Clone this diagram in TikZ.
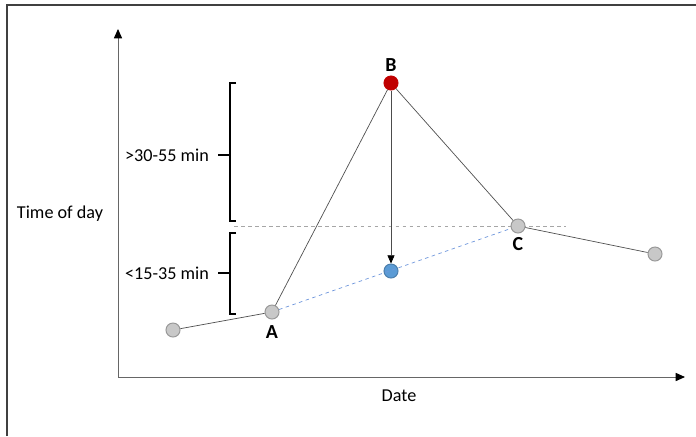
\documentclass[tikz,border=0pt]{standalone}
\usepackage{fontspec}
\setmainfont{Carlito}
\usetikzlibrary{arrows.meta, positioning}
\definecolor{dotgray}{RGB}{200, 200, 200}
\definecolor{rimgray}{RGB}{150, 150, 150}
\definecolor{linegray}{RGB}{80, 80, 80}
\definecolor{pointred}{RGB}{192, 0, 0}
\definecolor{pointblue}{RGB}{91, 155, 213}
\definecolor{dashblue}{RGB}{110, 150, 220}

\tikzset{
  pt/.style={circle, draw=rimgray, fill=dotgray, line width=0.8pt, minimum size=12pt, inner sep=0pt},
  ptlabel/.style={font=\fontsize{17}{19}\selectfont\bfseries},
  txt/.style={font=\fontsize{15.5}{18}\selectfont},
  link/.style={draw=linegray, line width=0.6pt},
  axis/.style={draw=black!60, line width=0.8pt, -{Triangle[length=8pt, width=7pt, color=black]}},
  brace/.style={draw=black, line width=1pt}
}

\begin{document}
\begin{tikzpicture}[x=0.03cm, y=-0.03cm]
  \useasboundingbox (0,0) rectangle (696,436);
  % frame
  \draw[black!75, line width=1pt] (7,436) -- (7,5) -- (696,5);

  % axes
  \coordinate (origin) at (118,377);
  \coordinate (ytip) at (118,29);
  \coordinate (xtip) at (685,377);
  \draw[axis] (origin) -- (ytip);
  \draw[axis] (origin) -- (xtip);
  \node[txt] (ylab) at (60,214) {Time of day};
  \node[txt] (xlab) at (399,396) {Date};

  % reference level
  \coordinate (lvlstart) at (234,226);
  \coordinate (lvlend) at (566,226);
  \draw[black!35, dashed, line width=0.6pt] (lvlstart) -- (lvlend);

  % points
  \node[pt] (p0) at (173,330) {};
  \node[pt] (a) at (272,312) {};
  \node[pt, draw=pointred, fill=pointred] (b) at (391,83) {};
  \node[pt, draw=pointblue!80!black, fill=pointblue] (bb) at (391,271) {};
  \node[pt] (c) at (518,226) {};
  \node[pt] (p5) at (655,254) {};

  \node[ptlabel, below=2pt of a] (alab) {A};
  \node[ptlabel, above=0pt of b] (blab) {B};
  \node[ptlabel, below=0pt of c] (clab) {C};

  % connectors
  \draw[link] (p0) -- (a);
  \draw[link] (a) -- (b);
  \draw[link] (b) -- (c);
  \draw[link] (c) -- (p5);
  \draw[dashblue, dashed, line width=0.6pt] (a) -- (c);
  \draw[link, -{Triangle[length=7pt, width=6pt, color=black]}, draw=black!70] (b) -- (bb);

  % brackets
  \draw[brace] (236,83) -- (230,83) -- (230,221) -- (236,221);
  \draw[brace] (230,155) -- (218,155);
  \node[txt, anchor=east] (upper) at (213,155) {>30-55 min};
  \draw[brace] (236,233) -- (230,233) -- (230,314) -- (236,314);
  \draw[brace] (230,273) -- (218,273);
  \node[txt, anchor=east] (lower) at (213,273) {<15-35 min};
\end{tikzpicture}
\end{document}
